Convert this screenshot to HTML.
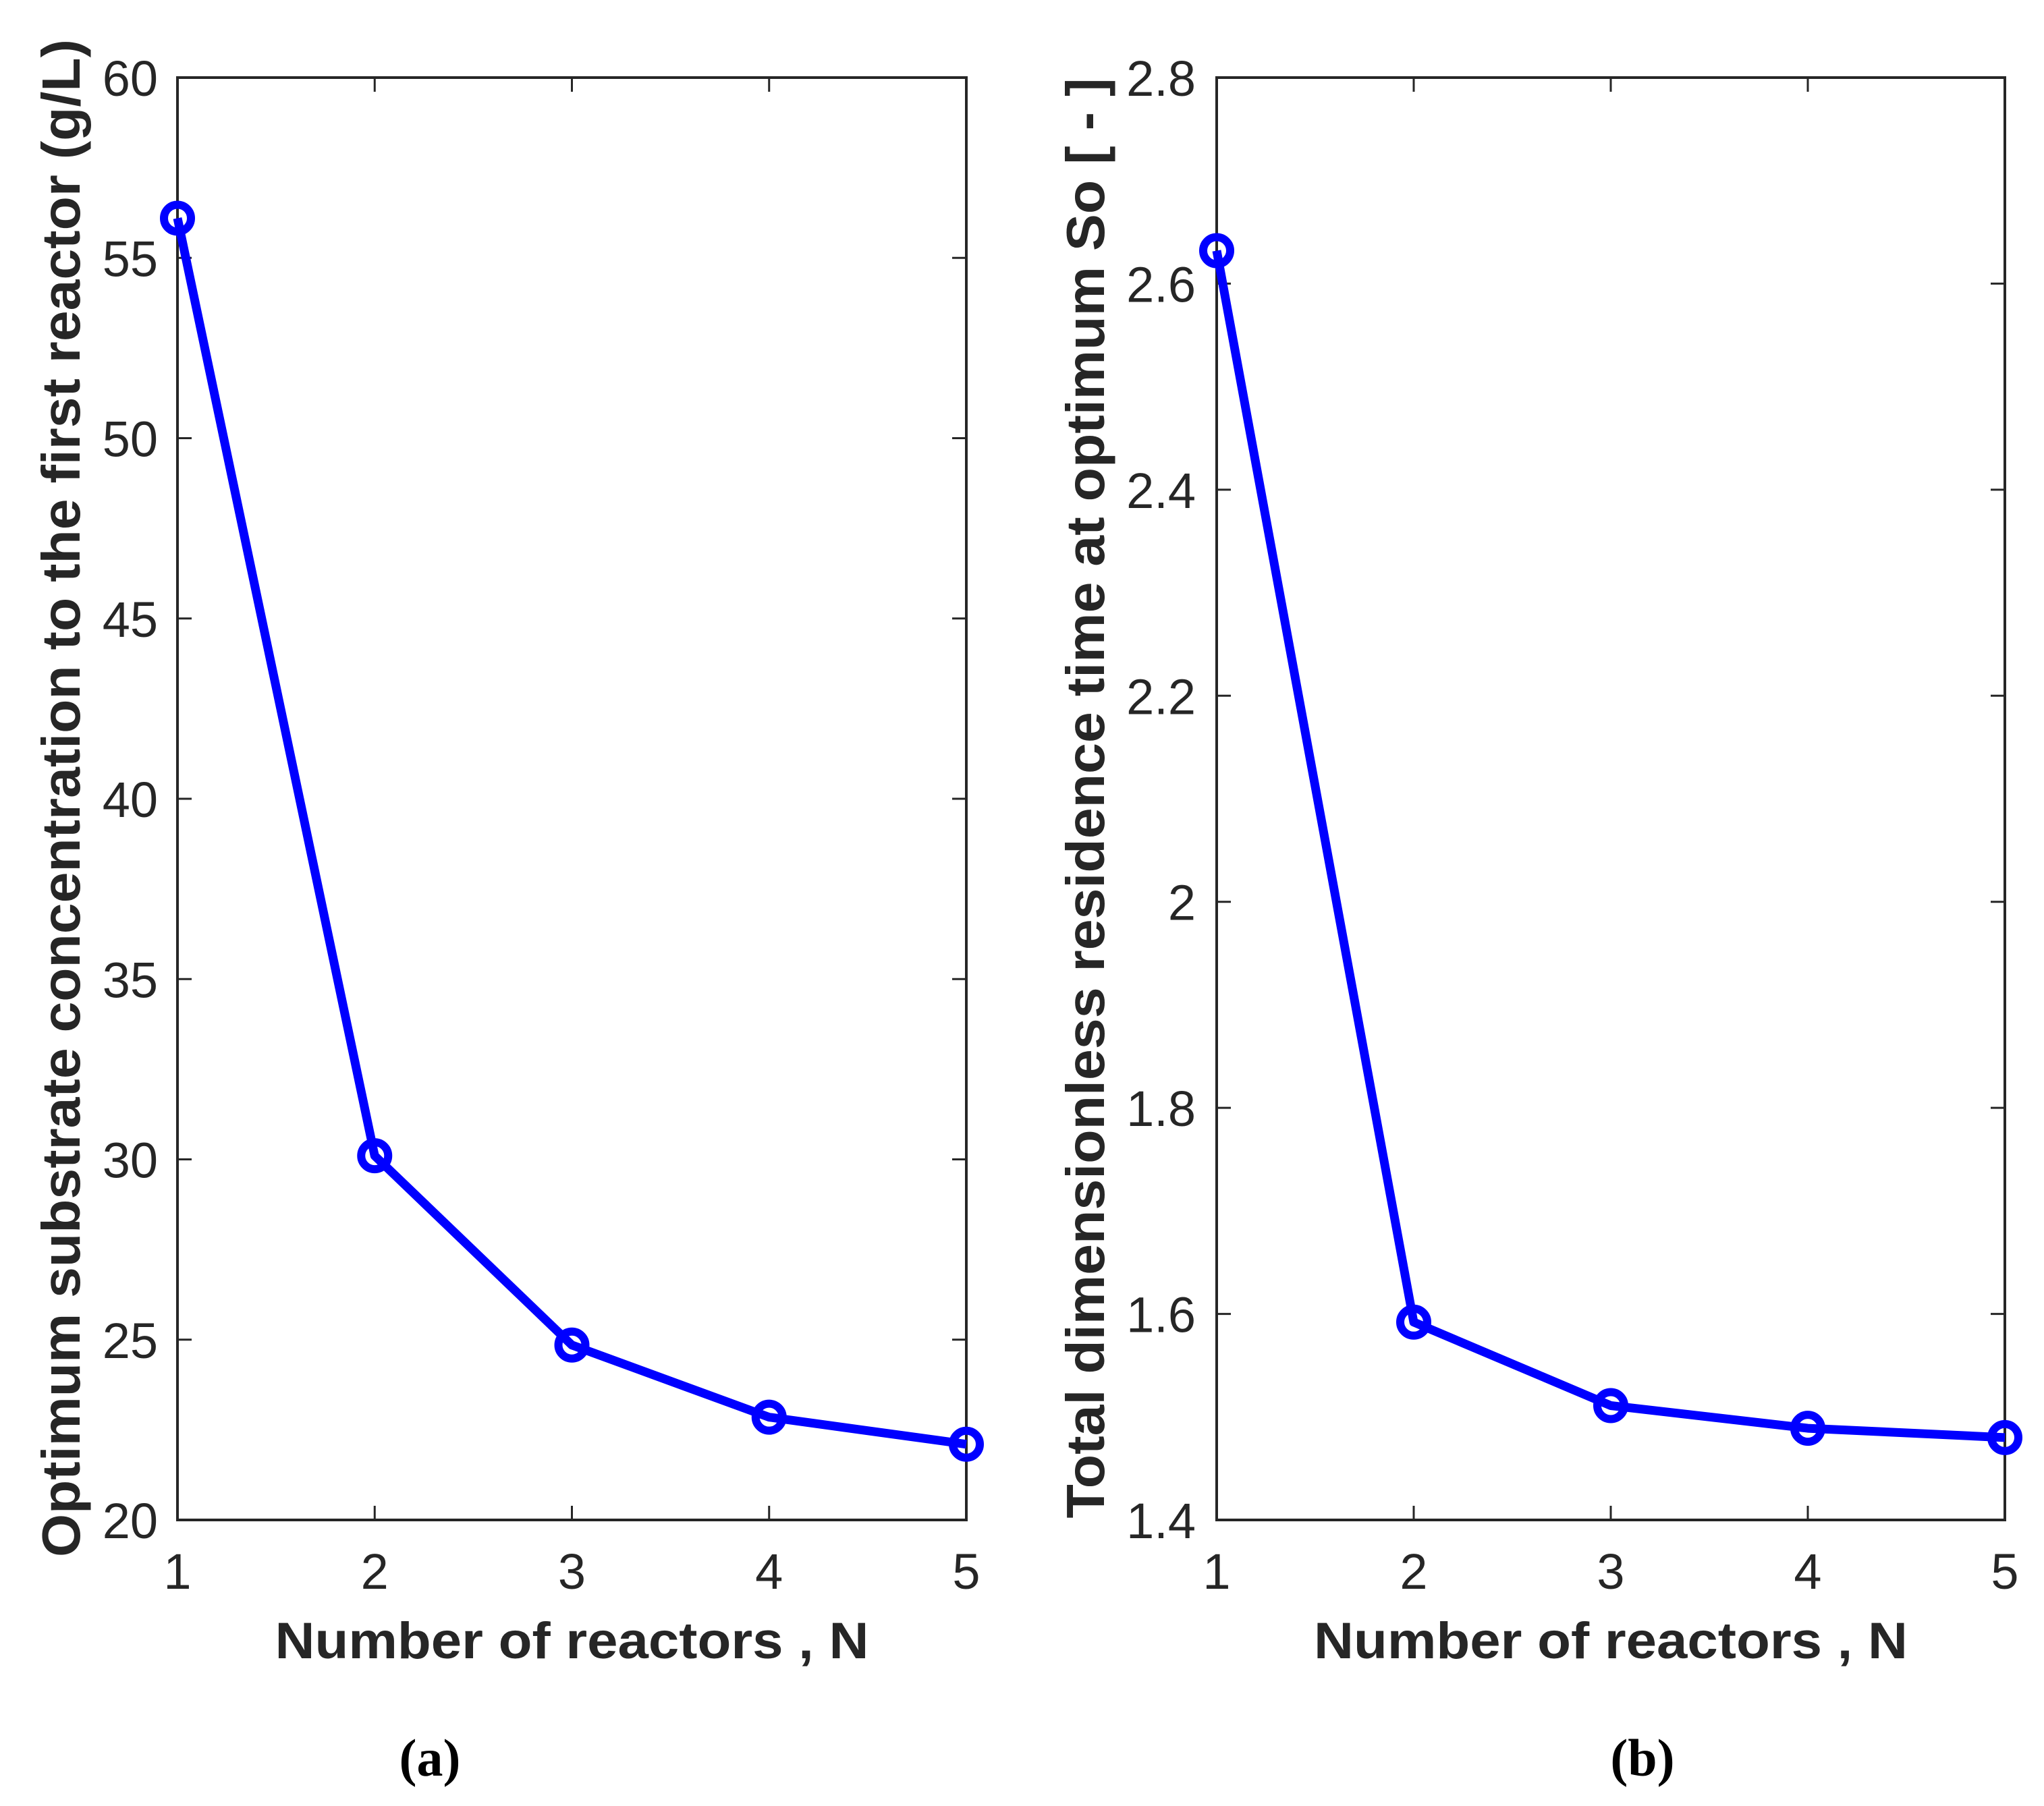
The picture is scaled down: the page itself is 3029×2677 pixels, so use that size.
<!DOCTYPE html>
<html><head><meta charset="utf-8"><style>
html,body{margin:0;padding:0;background:#fff;}
svg{display:block;}
text{font-family:"Liberation Sans",Arial,sans-serif;fill:#262626;}
</style></head><body>
<svg id="fig" width="3029" height="2677" viewBox="0 0 3029 2677" xmlns="http://www.w3.org/2000/svg"></svg>
<script>
const categories = [1, 2, 3, 4, 5];
const seriesA = [56.1, 30.1, 24.85, 22.85, 22.1];
const seriesB = [2.632, 1.592, 1.511, 1.489, 1.480];
const yTicksA = [20, 25, 30, 35, 40, 45, 50, 55, 60];
const yTickLabelsA = ["20","25","30","35","40","45","50","55","60"];
const yTicksB = [1.4, 1.6, 1.8, 2.0, 2.2, 2.4, 2.6, 2.8];
const yTickLabelsB = ["1.4","1.6","1.8","2","2.2","2.4","2.6","2.8"];
const xTickLabels = ["1","2","3","4","5"];

const NS = "http://www.w3.org/2000/svg";
const svg = document.getElementById('fig');
function mk(tag, attrs, parent){
  const e = document.createElementNS(NS, tag);
  for (const k in attrs) e.setAttribute(k, attrs[k]);
  (parent||svg).appendChild(e);
  return e;
}

function panel(opt){
  const g = mk('g', {});
  
  
  const L = opt.left, R = opt.right, T = 115, B = 2253;
  const xs = v => L + (v - 1) / 4 * (R - L);
  const ys = v => B - (v - opt.ymin) / (opt.ymax - opt.ymin) * (B - T);
  const tl = 21;
  categories.forEach((c, i) => {
    const x = xs(c);
    const t1 = mk('line', {x1:x, y1:B, x2:x, y2:B - tl, stroke:'#262626', 'stroke-width':3}, g);
    
    
    mk('line', {x1:x, y1:T, x2:x, y2:T + tl, stroke:'#262626', 'stroke-width':3}, g);
    const lab = mk('text', {x:x, y:2355, 'font-size':74, 'text-anchor':'middle'}, g);
    lab.textContent = xTickLabels[i];
    
    
  });
  opt.yticks.forEach((v, i) => {
    const y = ys(v);
    const t1 = mk('line', {x1:L, y1:y, x2:L + tl, y2:y, stroke:'#262626', 'stroke-width':3}, g);
    
    
    mk('line', {x1:R, y1:y, x2:R - tl, y2:y, stroke:'#262626', 'stroke-width':3}, g);
    const lab = mk('text', {x:opt.labelRight, y:y + 27, 'font-size':74, 'text-anchor':'end'}, g);
    lab.textContent = opt.ylabels[i];
    
    
  });
  const box = mk('rect', {x:L, y:T, width:R - L, height:B - T, fill:'none', stroke:'#262626', 'stroke-width':4}, g);
  
  
  const pts = categories.map((c, i) => xs(c) + ',' + ys(opt.data[i])).join(' ');
  const pl = mk('polyline', {points:pts, fill:'none', stroke:'#0000ff', 'stroke-width':13, 'stroke-linejoin':'round'}, g);
  
  
  categories.forEach((c, i) => {
    const m = mk('circle', {cx:xs(c), cy:ys(opt.data[i]), r:20, fill:'none', stroke:'#0000ff', 'stroke-width':12}, g);
    
    
  });
  const xt = mk('text', {x:(L + R) / 2, y:2458, 'font-size':76, 'font-weight':'bold', 'text-anchor':'middle', textLength:880, lengthAdjust:'spacingAndGlyphs'}, g);
  xt.textContent = 'Number of reactors , N';
  
  
  const yt = mk('text', {x:0, y:0, 'font-size':80, 'font-weight':'bold', 'text-anchor':'middle', textLength:opt.ytLen, lengthAdjust:'spacingAndGlyphs', transform:'translate(' + opt.ytX + ',' + opt.ytY + ') rotate(-90)'}, g);
  yt.textContent = opt.ytitle;
  
  
  const cap = mk('text', {x:opt.capX, y:2632, 'font-size':78, 'font-weight':'bold', 'text-anchor':'middle', style:'font-family:"Liberation Serif",serif;fill:#000'}, g);
  cap.textContent = opt.caption;
  
  
}

panel({name:'panel-a', left:263, right:1432, ymin:20, ymax:60, yticks:yTicksA, ylabels:yTickLabelsA, data:seriesA,
  labelRight:234, ytitle:'Optimum substrate concentration to the first reactor (g/L)', ytX:118, ytY:1183, ytLen:2250, capX:637, caption:'(a)'});
panel({name:'panel-b', left:1803, right:2971, ymin:1.4, ymax:2.8, yticks:yTicksB, ylabels:yTickLabelsB, data:seriesB,
  labelRight:1772, ytitle:'Total dimensionless residence time at optimum So [ - ]', ytX:1636, ytY:1183, ytLen:2135, capX:2434, caption:'(b)'});
</script>
</body></html>
